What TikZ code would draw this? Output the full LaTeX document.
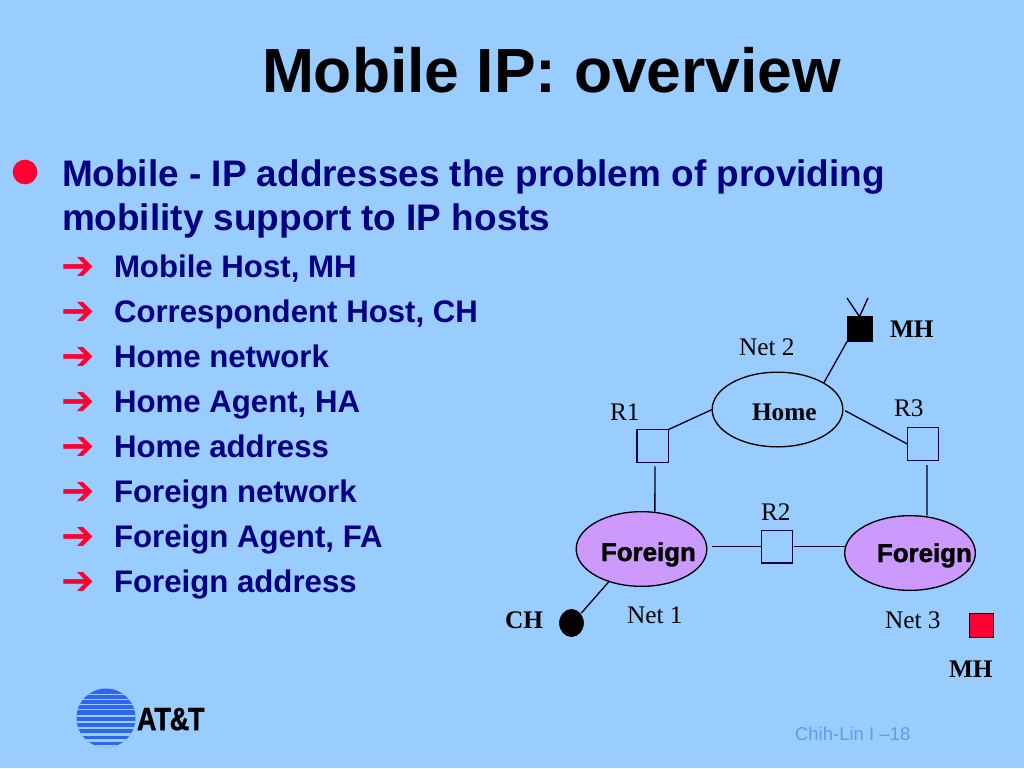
\documentclass[tikz,border=0pt]{standalone}
\usepackage{fontspec}
\setmainfont{Liberation Serif}
\newfontfamily\arialfont{Liberation Sans}
\newfontfamily\heavyfont[BoldFeatures={FakeBold=1.5}]{Liberation Sans}
\newfontfamily\arrowfont{DejaVu Sans}
\usetikzlibrary{positioning,shapes.geometric}
\definecolor{slidebg}{HTML}{99CCFF}
\definecolor{listblue}{HTML}{000080}
\definecolor{bulletred}{HTML}{FF0033}
\definecolor{netpurple}{HTML}{CC99FF}
\definecolor{logoblue}{HTML}{2F66F0}
\definecolor{footblue}{HTML}{6699E6}
\tikzset{
  every node/.style={inner sep=0pt,outer sep=0pt},
  txt/.style={anchor=base west,font=\arialfont\bfseries,text=listblue},
  netlabel/.style={anchor=base west,font=\fontsize{19}{21}\selectfont},
  hostlabel/.style={anchor=base west,font=\fontsize{19}{21}\selectfont\bfseries},
  router/.style={draw=listblue!70!black,line width=1pt,minimum width=23.5pt,minimum height=24.5pt},
  net/.style={draw=black,line width=1pt,ellipse,minimum width=98pt,minimum height=56pt},
  foreign/.style={net,fill=netpurple},
  link/.style={draw=black!80!listblue,line width=1pt}
}
\begin{document}
\begin{tikzpicture}[x=0.75pt,y=-0.75pt]
    \fill [slidebg] (0,0) rectangle (1024,768);
    \useasboundingbox (0,0) rectangle (1024,768);
    \node [anchor=base west,font=\arialfont\bfseries\fontsize{46.8}{50}\selectfont] (title) at (262,92) {Mobile IP: overview};
    \node [circle,fill=bulletred,minimum size=18.5pt] (dot) at (25,172) {};
    \node [txt,font=\arialfont\bfseries\fontsize{27.7}{30}\selectfont] (line1) at (62,186.5) {Mobile - IP addresses the problem of providing};
    \node [txt,font=\arialfont\bfseries\fontsize{27.7}{30}\selectfont] (line2) at (62,230.5) {mobility support to IP hosts};
    \foreach \n/\y/\t in {1/277/{Mobile Host, MH},2/322/{Correspondent Host, CH},3/367/{Home network},4/412/{Home Agent, HA},5/457/{Home address},6/502/{Foreign network},7/547/{Foreign Agent, FA},8/592/{Foreign address}}{
        \node [anchor=base west,font=\arrowfont\fontsize{30}{32}\selectfont,text=bulletred] (arrow\n) at (61.5,\y+2) {\char"2794};
        \node [txt,font=\arialfont\bfseries\fontsize{23.4}{26}\selectfont] (item\n) at (114,\y) {\t};
    }
    % network
    \node [net] (home) at (777.5,409.5) {};
    \node [foreign] (neta) at (641.5,549) {};
    \node [foreign] (netb) at (910,553) {};
    \node [router] (r1) at (652.5,446) {};
    \node [router] (r2) at (777,546.5) {};
    \node [router] (r3) at (923,444) {};
    \node [draw=black,fill=black,minimum size=18.5pt] (mhtop) at (859.5,329) {};
    \node [draw=black,fill=bulletred,minimum size=18pt] (mhred) at (981.5,625) {};
    \node [draw=black,fill=black,ellipse,minimum width=18pt,minimum height=20.5pt] (ch) at (571.5,623) {};
    \coordinate (antl) at (847,298);
    \coordinate (antr) at (868,298);
    \draw [link] (antl) -- (mhtop.north) -- (antr);
    \draw [link] (mhtop.south west) -- (home.north east);
    \draw [link] (r1.north east) -- (home.west);
    \draw [link,shorten <=2pt] (home.east) -- (r3.west);
    \draw [link,shorten <=3pt] ([xshift=1.9pt]r1.south) -- ([xshift=10pt]neta.north);
    \draw [link,shorten <=3.5pt] ([xshift=3pt]r3.south) -- ([xshift=12.7pt]netb.north);
    \draw [link,shorten <=3.5pt] (r2.west -| neta.east) -- (r2.west);
    \draw [link,shorten <=0.7pt] (r2.east) -- (r2.east -| netb.west);
    \draw [link,shorten >=1pt] (neta.225) -- (ch.45);
    \node [anchor=base west,font=\heavyfont\bfseries\fontsize{19.4}{21}\selectfont] (fa) at (601,561) {Foreign};
    \node [anchor=base west,font=\heavyfont\bfseries\fontsize{19.4}{21}\selectfont] (fb) at (877,562) {Foreign};
    \node [hostlabel] (homelabel) at (752,420) {Home};
    \node [netlabel] (net2) at (739,355) {Net 2};
    \node [netlabel] (net1) at (627,623) {Net 1};
    \node [netlabel] (net3) at (885,628) {Net 3};
    \node [netlabel] (r1label) at (610,420) {R1};
    \node [netlabel] (r2label) at (761,520) {R2};
    \node [netlabel] (r3label) at (894,416) {R3};
    \node [hostlabel] (mhtoplabel) at (890,337) {MH};
    \node [hostlabel] (mhredlabel) at (949,677) {MH};
    \node [hostlabel] (chlabel) at (505,628) {CH};
    % logo
    \begin{scope}
        \clip (106,718) circle (29.5);
        \fill [logoblue] (70,685) rectangle (140,752);
        \foreach \y/\h in {694/0.8,699/1,704/1.2,709/1.4,715/1.6,721/2,727/2.4,733/2.8,739/3,745/2.5}{
            \fill [slidebg] (70,\y) rectangle (140,\y+\h);
        }
    \end{scope}
    \node [anchor=base west,font=\heavyfont\bfseries\fontsize{24}{26}\selectfont] (att) at (137,730) {\scalebox{0.84}[1]{AT\kern-1pt\&\kern-1pt T}};
    \node [anchor=base west,font=\arialfont\fontsize{13.9}{15}\selectfont,text=footblue] (foot) at (795,740) {Chih-Lin I –18};
\end{tikzpicture}
\end{document}
